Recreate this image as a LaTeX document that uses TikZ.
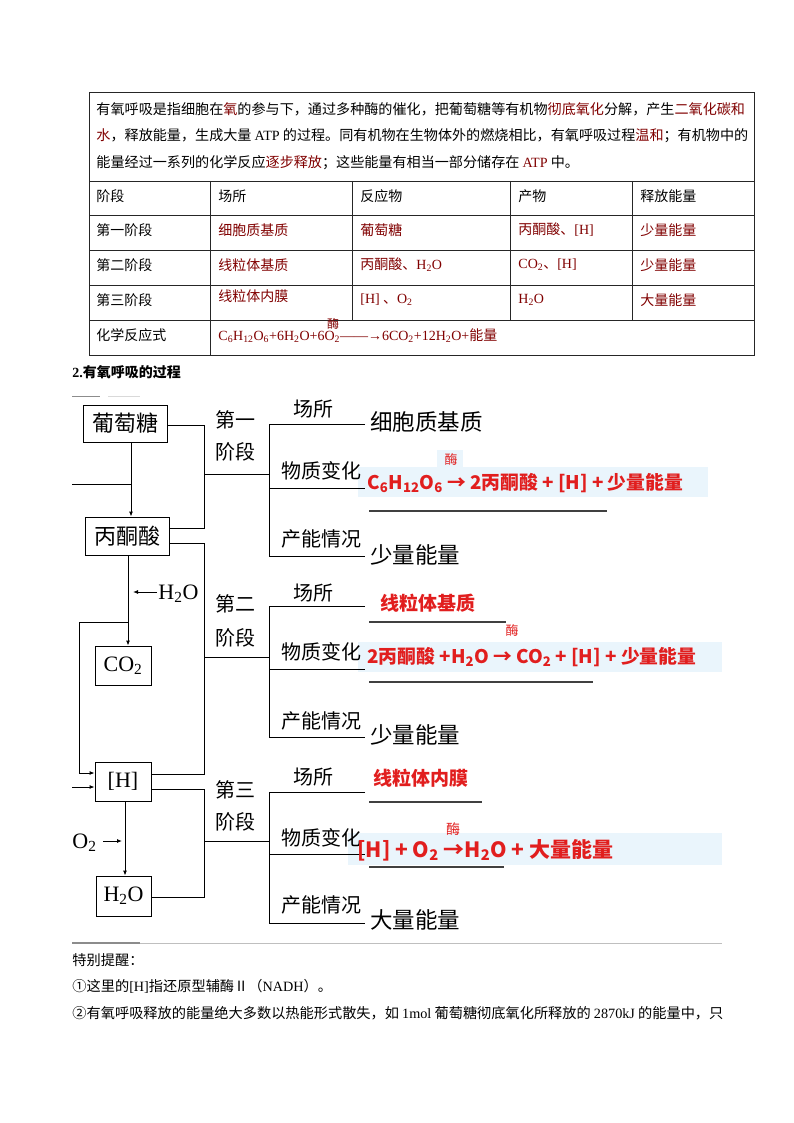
\documentclass[tikz,border=0pt]{standalone}
\usepackage{fontspec}
\setmainfont{Noto Sans CJK SC}
\newfontfamily\lat{Liberation Serif}
\usetikzlibrary{arrows.meta,calc}
\definecolor{dred}{RGB}{128,0,0}
\definecolor{ered}{RGB}{225,30,30}
\definecolor{lblue}{RGB}{234,245,252}
\begin{document}
\begin{tikzpicture}[x=1pt,y=-1pt,line width=0.9pt,
  ttxt/.style={anchor=west,inner sep=0pt,font=\fontsize{14.1}{14.1}\selectfont},
  ctxt/.style={anchor=west,inner sep=0pt,font=\fontsize{14}{14}\selectfont},
  rtxt/.style={ctxt,text=dred},
  tline/.style={line width=0.8pt,black!85},
  box/.style={draw,line width=0.9pt,inner sep=0pt,font=\fontsize{22}{22}\selectfont},
  stg/.style={inner sep=0pt,font=\fontsize{20}{20}\selectfont},
  sub/.style={inner sep=0pt,font=\fontsize{20}{20}\selectfont},
  val/.style={anchor=west,inner sep=0pt,font=\fontsize{22.5}{22.5}\selectfont},
  eq/.style={anchor=west,inner sep=0pt,text=ered,font=\fontsize{18.8}{18.8}\selectfont\bfseries},
  loc/.style={anchor=west,inner sep=0pt,text=ered,font=\fontsize{19}{19}\selectfont\bfseries},
  enz/.style={inner sep=0pt,text=ered,font=\fontsize{13}{13}\selectfont},
  arr/.style={-{Latex[length=5pt,width=4pt]}},
  btxt/.style={anchor=west,inner sep=0pt,font=\fontsize{14.2}{14.2}\selectfont}]
\useasboundingbox (0,0) rectangle (794,1123);

% ---------------- table ----------------
\draw[tline] (89,92) rectangle (754,355);
\foreach \yy in {181,215,250,285,320} \draw[tline] (89,\yy) -- (754,\yy);
\foreach \xx in {352,510,632} \draw[tline] (\xx,181) -- (\xx,320);
\draw[tline] (210,181) -- (210,355);

\node[ttxt] (p1) at (96,109) {有氧呼吸是指细胞在\textcolor{dred}{氧}的参与下，通过多种酶的催化，把葡萄糖等有机物\textcolor{dred}{彻底氧化}分解，产生\textcolor{dred}{二氧化碳和}};
\node[ttxt] (p2) at (96,136) {\textcolor{dred}{水}，释放能量，生成大量 {\lat ATP} 的过程。同有机物在生物体外的燃烧相比，有氧呼吸过程\textcolor{dred}{温和}；有机物中的};
\node[ttxt] (p3) at (96,163) {能量经过一系列的化学反应\textcolor{dred}{逐步释放}；这些能量有相当一部分储存在 \textcolor{dred}{\lat ATP} 中。};

\node[ctxt] (h1) at (96,196) {阶段};
\node[ctxt] (h2) at (218,196) {场所};
\node[ctxt] (h3) at (360,196) {反应物};
\node[ctxt] (h4) at (518,196) {产物};
\node[ctxt] (h5) at (640,196) {释放能量};

\node[ctxt] (r1a) at (96,230) {第一阶段};
\node[rtxt] (r1b) at (218,230) {细胞质基质};
\node[rtxt] (r1c) at (360,230) {葡萄糖};
\node[rtxt] (r1d) at (518,230) {丙酮酸、{\lat [H]}};
\node[rtxt] (r1e) at (640,230) {少量能量};

\node[ctxt] (r2a) at (96,265) {第二阶段};
\node[rtxt] (r2b) at (218,265) {线粒体基质};
\node[rtxt] (r2c) at (360,265) {丙酮酸、{\lat H\textsubscript{2}O}};
\node[rtxt] (r2d) at (518,265) {{\lat CO\textsubscript{2}}、{\lat [H]}};
\node[rtxt] (r2e) at (640,265) {少量能量};

\node[ctxt] (r3a) at (96,300) {第三阶段};
\node[rtxt] (r3b) at (218,296) {线粒体内膜};
\node[rtxt] (r3c) at (360,300) {{\lat [H]} 、{\lat O\textsubscript{2}}};
\node[rtxt] (r3d) at (518,300) {{\lat H\textsubscript{2}O}};
\node[rtxt] (r3e) at (640,300) {大量能量};

\node[ctxt] (r4a) at (96,335) {化学反应式};
\node[rtxt] (r4b) at (218,336) {{\lat C\textsubscript{6}H\textsubscript{12}O\textsubscript{6}+6H\textsubscript{2}O+6O\textsubscript{2}——→6CO\textsubscript{2}+12H\textsubscript{2}O+}能量};
\node[inner sep=0pt,text=dred,font=\fontsize{12}{12}\selectfont] (r4m) at (333,324) {酶};

% ---------------- heading ----------------
\node[anchor=west,inner sep=0pt,font=\fontsize{14}{14}\selectfont\bfseries] (hd) at (72,372) {{\lat 2.}有氧呼吸的过程};
\coordinate (g1) at (72,396); \coordinate (g2) at (100,396);
\coordinate (g3) at (108,396); \coordinate (g4) at (140,396);
\draw[black!45,line width=1pt] (g1) -- (g2);
\draw[black!15,line width=1pt] (g3) -- (g4);

% ---------------- light backgrounds (behind texts) ----------------
\fill[lblue] (358,467) rectangle (708,497);
\fill[lblue] (437,450) rectangle (463,467);
\fill[lblue] (358,642) rectangle (722,672);
\fill[lblue] (348,833) rectangle (722,865);

% ---------------- boxes ----------------
\node[box,minimum width=84pt,minimum height=37pt] (glu) at (125,423.5) {葡萄糖};
\node[box,minimum width=84pt,minimum height=38pt] (pyr) at (127.5,536) {丙酮酸};
\node[box,minimum width=56pt,minimum height=39pt] (co2) at (123,665.5) {\lat CO\textsubscript{2}};
\node[box,minimum width=56pt,minimum height=39pt] (hh) at (123,781.5) {\lat [H]};
\node[box,minimum width=55pt,minimum height=40pt] (h2o) at (123.5,896) {\lat H\textsubscript{2}O};

% connectors left side
\coordinate (a1) at (131,442);
\draw[arr] (a1) -- (pyr.north -| a1);
\coordinate (L1) at (72,484);
\draw (L1) -- (L1 -| a1);

\coordinate (a2) at (128,555);
\draw[arr] (a2) -- (co2.north -| a2);
\coordinate (w1) at (157,592); \coordinate (w2) at (133,592);
\draw[arr] (w1) -- (w2);
\node[anchor=west,inner sep=0pt,font=\lat\fontsize{22}{22}\selectfont] (wl) at (158,594) {H\textsubscript{2}O};

\coordinate (lp1) at (128,622); \coordinate (lp2) at (79,622);
\draw[arr] (lp1) -- (lp2) |- ($(hh.west)+(0,-8.5)$);
\coordinate (L2) at (72,787);
\draw[arr] (L2) -- (L2 -| hh.west);

\coordinate (a3) at (125,801);
\draw[arr] (a3) -- (h2o.north -| a3);
\coordinate (o1) at (103,841); \coordinate (o2) at (122,841);
\draw[arr] (o1) -- (o2);
\node[anchor=east,inner sep=0pt,font=\lat\fontsize{22}{22}\selectfont] (ol) at (97,843) {O\textsubscript{2}};

% brackets to stages
\coordinate (b1) at (204,425); \coordinate (b2) at (204,528);
\draw ($(glu.east)+(0,1.5)$) -- (b1) -- (b2) -- (b2 -| pyr.east);
\coordinate (m1) at (204,474); \coordinate (n1) at (269,474);
\draw (m1) -- (n1);

\coordinate (b3) at (204,543); \coordinate (b4) at (204,774);
\draw (b3 -| pyr.east) -- (b3) -- (b4) -- (b4 -| hh.east);
\coordinate (m2) at (204,657); \coordinate (n2) at (269,657);
\draw (m2) -- (n2);

\coordinate (b5) at (204,789); \coordinate (b6) at (204,897);
\draw (b5 -| hh.east) -- (b5) -- (b6) -- (b6 -| h2o.east);
\coordinate (m3) at (204,841); \coordinate (n3) at (269,841);
\draw (m3) -- (n3);

% stage labels
\node[stg] (s1a) at (235,420) {第一};
\node[stg] (s1b) at (235,452) {阶段};
\node[stg] (s2a) at (235,604) {第二};
\node[stg] (s2b) at (235,638) {阶段};
\node[stg] (s3a) at (235,790) {第三};
\node[stg] (s3b) at (235,822) {阶段};

% ---------- stage 1 ----------
\coordinate (t1a) at (269,424); \coordinate (t1b) at (269,488); \coordinate (t1c) at (269,556);
\draw (365,424) -- (t1a) -- (t1c) -- (365,556);
\draw (t1b) -- (365,488);
\node[sub] (k1a) at (313,409) {场所};
\node[sub] (k1b) at (321,471) {物质变化};
\node[sub] (k1c) at (321,539) {产能情况};
\node[val] (v1a) at (370,422) {细胞质基质};
\node[eq] (e1) at (367,483) {C\textsubscript{6}H\textsubscript{12}O\textsubscript{6} → 2丙酮酸 + [H] + 少量能量};
\node[enz] (z1) at (451,460) {酶};
\coordinate (u1a) at (369,511); \coordinate (u1b) at (607,511);
\draw[black!75,line width=1.1pt] (u1a) -- (u1b);
\node[val] (v1c) at (370,555) {少量能量};

% ---------- stage 2 ----------
\coordinate (t2a) at (269,606); \coordinate (t2b) at (269,669); \coordinate (t2c) at (269,737);
\draw (365,606) -- (t2a) -- (t2c) -- (365,737);
\draw (t2b) -- (365,669);
\node[sub] (k2a) at (313,593) {场所};
\node[sub] (k2b) at (321,652) {物质变化};
\node[sub] (k2c) at (321,721) {产能情况};
\node[loc] (v2a) at (380,603) {线粒体基质};
\coordinate (u2a) at (369,622); \coordinate (u2b) at (506,622);
\draw[black!75,line width=1.1pt] (u2a) -- (u2b);
\node[enz] (z2) at (512,631) {酶};
\node[eq] (e2) at (367,657) {2丙酮酸 +H\textsubscript{2}O → CO\textsubscript{2} + [H] + 少量能量};
\coordinate (u3a) at (369,682); \coordinate (u3b) at (593,682);
\draw[black!75,line width=1.1pt] (u3a) -- (u3b);
\node[val] (v2c) at (370,735) {少量能量};

% ---------- stage 3 ----------
\coordinate (t3a) at (269,792); \coordinate (t3b) at (269,854); \coordinate (t3c) at (269,923);
\draw (365,792) -- (t3a) -- (t3c) -- (365,923);
\draw (t3b) -- (365,854);
\node[sub] (k3a) at (313,777) {场所};
\node[sub] (k3b) at (321,838) {物质变化};
\node[sub] (k3c) at (321,905) {产能情况};
\node[loc] (v3a) at (373,778) {线粒体内膜};
\coordinate (u4a) at (369,802); \coordinate (u4b) at (482,802);
\draw[black!75,line width=1.1pt] (u4a) -- (u4b);
\node[eq,font=\fontsize{21}{21}\selectfont\bfseries] (e3) at (357,850) {[H] + O\textsubscript{2} →H\textsubscript{2}O + 大量能量};
\node[enz,font=\fontsize{14}{14}\selectfont] (z3) at (453,829) {酶};
\coordinate (u5a) at (369,867); \coordinate (u5b) at (504,867);
\draw[black!75,line width=1.1pt] (u5a) -- (u5b);
\node[val] (v3c) at (370,920) {大量能量};

% ---------------- bottom notes ----------------
\coordinate (q1) at (72,943); \coordinate (q2) at (722,943); \coordinate (q3) at (140,943);
\draw[black!25,line width=1pt] (q1) -- (q2);
\draw[black!45,line width=1.5pt] (q1) -- (q3);
\node[btxt] (n1t) at (72,960) {特别提醒：};
\node[btxt] (n2t) at (72,986) {①这里的{\lat [H]}指还原型辅酶Ⅱ（{\lat NADH}）。};
\node[btxt] (n3t) at (72,1013) {②有氧呼吸释放的能量绝大多数以热能形式散失，如 {\lat 1mol} 葡萄糖彻底氧化所释放的 {\lat 2870kJ} 的能量中，只};
\end{tikzpicture}
\end{document}
